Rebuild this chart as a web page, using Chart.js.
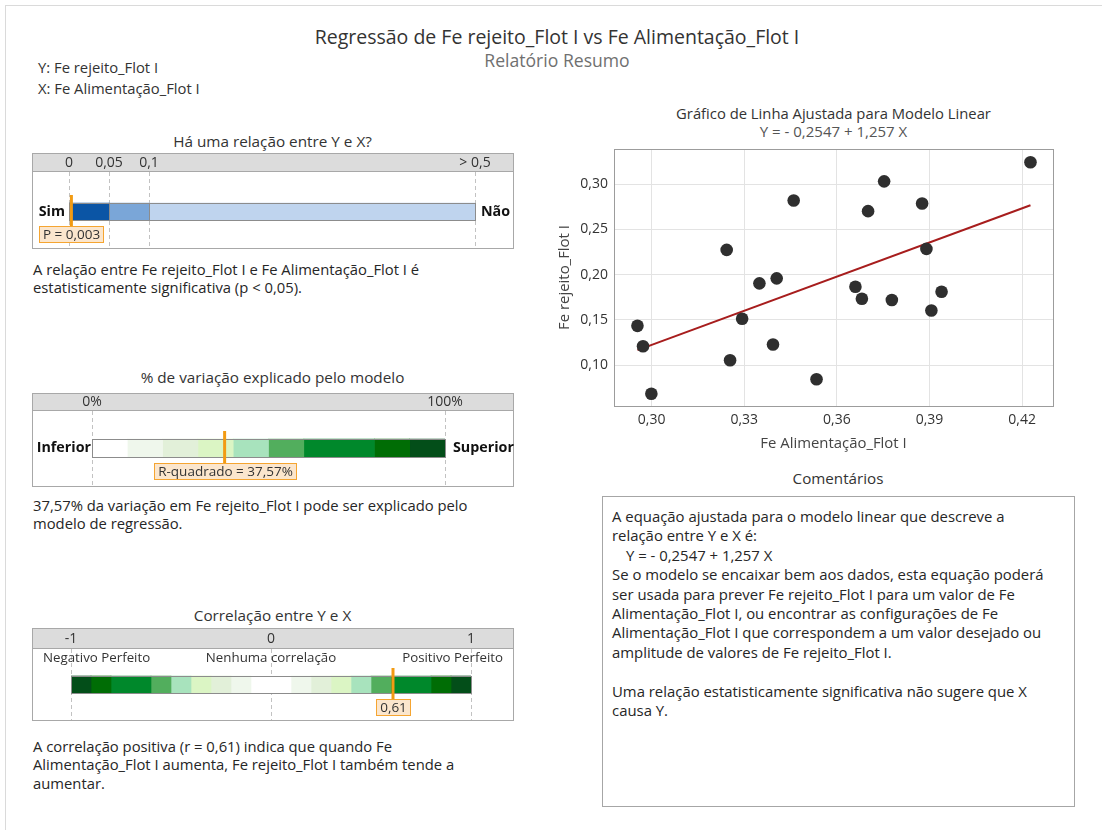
<!DOCTYPE html>
<html lang="pt">
<head>
<meta charset="utf-8">
<title>Regressão de Fe rejeito_Flot I vs Fe Alimentação_Flot I</title>
<script src="https://cdn.jsdelivr.net/npm/chart.js@4/dist/chart.umd.min.js"></script>
<style>
  body { margin: 0; background: #fff; font-family: 'Open Sans', 'Noto Sans', sans-serif; color: #262626; }
  #page { position: relative; width: 1102px; height: 830px; overflow: hidden; background: #fff; }
  .frame { position: absolute; left: 5px; top: 5px; width: 1200px; height: 900px;
           border-left: 1px solid #dadada; border-top: 1px solid #dadada; }
  .t { position: absolute; white-space: nowrap; }
  .body { font-size: 14.8px; line-height: 18.3px; color: #262626; }
  .ptitle { font-size: 15.3px; line-height: 18px; color: #333; text-align: center; }
  canvas { position: absolute; }
  #comments { position: absolute; left: 602px; top: 496px; width: 473px; height: 311px;
              border: 1px solid #a6a6a6; box-sizing: border-box; }
</style>
</head>
<body>
<div id="page">
  <div class="frame"></div>

  <div class="t" style="left:0;width:1114px;top:24px;font-size:19.5px;line-height:26px;text-align:center;color:#333;">Regressão de Fe rejeito_Flot I vs Fe Alimentação_Flot I</div>
  <div class="t" style="left:0;width:1114px;top:49px;font-size:17.6px;line-height:22px;text-align:center;color:#707070;">Relatório Resumo</div>
  <div class="t" style="left:38px;top:58px;font-size:14.8px;line-height:18px;color:#333;">Y: Fe rejeito_Flot I</div>
  <div class="t" style="left:38px;top:79px;font-size:14.8px;line-height:18px;color:#333;">X: Fe Alimentação_Flot I</div>

  <!-- left column: gauges -->
  <div class="t ptitle" style="left:32px;width:481px;top:132px;">Há uma relação entre Y e X?</div>
  <canvas id="pGauge" width="490" height="99" style="left:30px;top:151px;"></canvas>
  <div class="t body" id="pText" style="left:33px;top:260px;"></div>

  <div class="t ptitle" style="left:32px;width:481px;top:368px;">% de variação explicado pelo modelo</div>
  <canvas id="r2Gauge" width="490" height="97" style="left:30px;top:391px;"></canvas>
  <div class="t body" id="r2Text" style="left:33px;top:496px;"></div>

  <div class="t ptitle" style="left:32px;width:481px;top:606px;">Correlação entre Y e X</div>
  <canvas id="rGauge" width="490" height="96" style="left:30px;top:626px;"></canvas>
  <div class="t body" id="rText" style="left:33px;top:737px;"></div>

  <!-- right column: fitted line plot and comments -->
  <div class="t" style="left:614px;width:439px;top:104px;font-size:14.8px;line-height:18px;text-align:center;color:#333;">Gráfico de Linha Ajustada para Modelo Linear</div>
  <div class="t" id="eqSub" style="left:614px;width:439px;top:122px;font-size:15px;line-height:18px;text-align:center;color:#555;"></div>
  <canvas id="fitChart" width="515" height="320" style="left:548px;top:140px;"></canvas>

  <div class="t" style="left:602px;width:472px;top:469px;font-size:15.2px;line-height:18px;text-align:center;color:#333;">Comentários</div>
  <div id="comments"></div>
  <div class="t" id="commentText" style="left:612px;top:507px;font-size:14.9px;line-height:19.4px;color:#262626;"></div>
</div>

<script>
// ---- regression data: Fe Alimentação_Flot I (x) and Fe rejeito_Flot I (y) ----
const xFeAlim = [0.2954, 0.2972, 0.2999, 0.3243, 0.3254, 0.3293, 0.3349, 0.3393, 0.3405, 0.3460, 0.3534,
                 0.3660, 0.3681, 0.3701, 0.3753, 0.3778, 0.3876, 0.3890, 0.3906, 0.3939, 0.4227];
const yFeRej  = [0.1435, 0.1210, 0.0686, 0.2273, 0.1055, 0.1513, 0.1904, 0.1229, 0.1959, 0.2819, 0.0845,
                 0.1867, 0.1734, 0.2701, 0.3030, 0.1720, 0.2786, 0.2284, 0.1605, 0.1812, 0.3240];
const fitIntercept = -0.2547;
const fitSlope = 1.257;
const xTickValues = [0.30, 0.33, 0.36, 0.39, 0.42];
const yTickValues = [0.10, 0.15, 0.20, 0.25, 0.30];

// ---- summary statistics ----
const pValue = 0.003;
const rSquared = 37.57;
const rValue = 0.61;

// p-value gauge
const pTickValues = [0, 0.05, 0.1, 0.5];
const pTickLabels = ['0', '0,05', '0,1', '> 0,5'];
const pBandEdges  = [0, 0.05, 0.1, 0.5];
const pBandColors = ['#0b55a5', '#7aa6d8', '#bfd4ee'];

// R-squared gauge
const r2TickValues = [0, 100];
const r2TickLabels = ['0%', '100%'];
const r2BandEdges  = [0, 10, 20, 30, 40, 50, 60, 80, 90, 100];
const r2BandColors = ['#ffffff', '#eff7ec', '#e2f0d9', '#dbf5c4', '#a8e3bd', '#52ae5d', '#00882b', '#006d05', '#034e19'];

// correlation gauge
const rTickValues = [-1, 0, 1];
const rTickLabels = ['-1', '0', '1'];
const rBandEdges  = [-1, -0.9, -0.8, -0.6, -0.5, -0.4, -0.3, -0.2, -0.1, 0.1, 0.2, 0.3, 0.4, 0.5, 0.6, 0.8, 0.9, 1];
const rBandColors = ['#034e19', '#006d05', '#00882b', '#52ae5d', '#a8e3bd', '#dbf5c4', '#e2f0d9', '#eff7ec', '#ffffff',
                     '#eff7ec', '#e2f0d9', '#dbf5c4', '#a8e3bd', '#52ae5d', '#00882b', '#006d05', '#034e19'];

const FONT = "'Open Sans', 'Noto Sans', sans-serif";
Chart.defaults.font.family = FONT;
Chart.defaults.color = '#333';

const fmt = (v, d) => v.toFixed(d).replace('.', ',');
const eqText = 'Y = ' + (fitIntercept < 0 ? '- ' : '') + fmt(Math.abs(fitIntercept), 4) + ' + ' + fmt(fitSlope, 3) + ' X';

// ---- text blocks ----
document.getElementById('eqSub').textContent = eqText;
document.getElementById('pText').innerHTML =
  'A relação entre Fe rejeito_Flot I e Fe Alimentação_Flot I é<br>estatisticamente significativa (p &lt; 0,05).';
document.getElementById('r2Text').innerHTML =
  fmt(rSquared, 2) + '% da variação em Fe rejeito_Flot I pode ser explicado pelo<br>modelo de regressão.';
document.getElementById('rText').innerHTML =
  'A correlação positiva (r = ' + fmt(rValue, 2) + ') indica que quando Fe<br>' +
  'Alimentação_Flot I aumenta, Fe rejeito_Flot I também tende a<br>aumentar.';
document.getElementById('commentText').innerHTML = [
  'A equação ajustada para o modelo linear que descreve a',
  'relação entre Y e X é:',
  '<span style="padding-left:14px">' + eqText + '</span>',
  'Se o modelo se encaixar bem aos dados, esta equação poderá',
  'ser usada para prever Fe rejeito_Flot I para um valor de Fe',
  'Alimentação_Flot I, ou encontrar as configurações de Fe',
  'Alimentação_Flot I que correspondem a um valor desejado ou',
  'amplitude de valores de Fe rejeito_Flot I.',
  '&nbsp;',
  'Uma relação estatisticamente significativa não sugere que X',
  'causa Y.'
].join('<br>');

// ---- gauge charts (horizontal floating bars) ----
function gaugeDecor(cfg) {
  return {
    id: 'gaugeDecor',
    beforeDatasetsDraw(chart) {
      const ctx = chart.ctx, xs = chart.scales.x;
      const bx = 2, by = 2, bw = cfg.boxW, bh = cfg.boxH, hh = cfg.headerH;
      ctx.save();
      ctx.fillStyle = '#dcdcdc';
      ctx.fillRect(bx, by, bw, hh);
      // dashed guides at each tick
      ctx.strokeStyle = '#c2c2c2';
      ctx.lineWidth = 1;
      ctx.setLineDash([4, 3]);
      cfg.ticks.forEach(v => {
        const x = Math.round(xs.getPixelForValue(cfg.map(v))) + 0.5;
        ctx.beginPath(); ctx.moveTo(x, by + hh + 1); ctx.lineTo(x, by + bh); ctx.stroke();
      });
      ctx.setLineDash([]);
      // frame and header rule
      ctx.strokeStyle = '#a8a8a8';
      ctx.strokeRect(bx + 0.5, by + 0.5, bw, bh);
      ctx.beginPath(); ctx.moveTo(bx, by + hh + 0.5); ctx.lineTo(bx + bw, by + hh + 0.5); ctx.stroke();
      // tick labels in header
      ctx.fillStyle = '#333';
      ctx.font = '14px ' + FONT;
      ctx.textAlign = 'center';
      ctx.textBaseline = 'middle';
      cfg.ticks.forEach((v, i) => {
        ctx.fillText(cfg.tickLabels[i], xs.getPixelForValue(cfg.map(v)), by + hh / 2 + 1);
      });
      // sub labels (correlation gauge)
      if (cfg.subLabels) {
        ctx.font = '13.3px ' + FONT;
        cfg.subLabels.forEach(s => {
          ctx.textAlign = s.align;
          let x = s.align === 'center' ? xs.getPixelForValue(s.at) : (s.align === 'left' ? bx + 11 : bx + bw - 10);
          ctx.fillText(s.text, x, cfg.subY);
        });
      }
      ctx.restore();
    },
    afterDatasetsDraw(chart) {
      const ctx = chart.ctx, xs = chart.scales.x;
      const bar = chart.getDatasetMeta(0).data[0];
      const top = Math.round(bar.y - bar.height / 2), bot = Math.round(bar.y + bar.height / 2);
      const x0 = xs.getPixelForValue(cfg.map(cfg.edges[0]));
      const x1 = xs.getPixelForValue(cfg.map(cfg.edges[cfg.edges.length - 1]));
      ctx.save();
      ctx.strokeStyle = '#8c8c8c';
      ctx.lineWidth = 1;
      ctx.strokeRect(Math.round(x0) + 0.5, top + 0.5, Math.round(x1 - x0), bot - top);
      if (cfg.separators) {
        cfg.edges.slice(1, -1).forEach(e => {
          const x = Math.round(xs.getPixelForValue(cfg.map(e))) + 0.5;
          ctx.beginPath(); ctx.moveTo(x, top); ctx.lineTo(x, bot); ctx.stroke();
        });
      }
      // side labels
      ctx.fillStyle = '#111';
      ctx.font = 'bold 14.3px ' + FONT;
      ctx.textBaseline = 'middle';
      if (cfg.leftLabel) { ctx.textAlign = 'right'; ctx.fillText(cfg.leftLabel, x0 - cfg.sideGapL, bar.y); }
      if (cfg.rightLabel) { ctx.textAlign = 'left'; ctx.fillText(cfg.rightLabel, x1 + cfg.sideGapR, bar.y); }
      // value marker and label
      const mx = xs.getPixelForValue(cfg.map(cfg.value));
      const boxTop = bot + 6, boxH = 16;
      ctx.strokeStyle = '#f29b13';
      ctx.lineWidth = 3;
      ctx.beginPath(); ctx.moveTo(mx, top - 8); ctx.lineTo(mx, boxTop + 1); ctx.stroke();
      ctx.font = '13.5px ' + FONT;
      const tw = ctx.measureText(cfg.valueLabel).width;
      const bw = Math.round(tw + 7);
      const bxl = Math.round(mx - bw / 2);
      ctx.fillStyle = '#fbe6cd';
      ctx.fillRect(bxl, boxTop, bw, boxH);
      ctx.strokeStyle = '#f5a531';
      ctx.lineWidth = 1;
      ctx.strokeRect(bxl + 0.5, boxTop + 0.5, bw, boxH);
      ctx.fillStyle = '#333';
      ctx.textAlign = 'center';
      ctx.fillText(cfg.valueLabel, bxl + bw / 2 + 0.5, boxTop + boxH / 2 + 1);
      ctx.restore();
    }
  };
}

function gaugeChart(id, cfg) {
  const datasets = cfg.colors.map((c, i) => ({
    data: [[cfg.map(cfg.edges[i]), cfg.map(cfg.edges[i + 1])]],
    backgroundColor: c,
    borderWidth: 0,
    grouped: false,
    barThickness: cfg.barH
  }));
  return new Chart(document.getElementById(id), {
    type: 'bar',
    data: { labels: [''], datasets },
    options: {
      indexAxis: 'y',
      responsive: false,
      animation: false,
      events: [],
      layout: { padding: cfg.pad },
      plugins: { legend: { display: false }, tooltip: { enabled: false } },
      scales: {
        x: { type: 'linear', display: false, min: cfg.map(cfg.edges[0]), max: cfg.map(cfg.edges[cfg.edges.length - 1]) },
        y: { display: false }
      }
    },
    plugins: [gaugeDecor(cfg)]
  });
}

// p-value axis: 0–0.05 and 0.05–0.1 get equal room, 0.1–0.5 is compressed
function pAxis(p) {
  const stops = [0, 1, 2, 10.15];
  for (let i = 1; i < pTickValues.length; i++) {
    if (p <= pTickValues[i]) {
      const a = pTickValues[i - 1], b = pTickValues[i];
      return stops[i - 1] + (p - a) / (b - a) * (stops[i] - stops[i - 1]);
    }
  }
  return stops[stops.length - 1];
}
const identity = v => v;

gaugeChart('pGauge', {
  map: pAxis, edges: pBandEdges, colors: pBandColors, ticks: pTickValues, tickLabels: pTickLabels,
  value: pValue, valueLabel: 'P = ' + fmt(pValue, 3),
  leftLabel: 'Sim', rightLabel: 'Não', sideGapL: 4, sideGapR: 6, separators: true,
  pad: { left: 39, right: 45, top: 24, bottom: 2 }, barH: 17,
  boxW: 481, boxH: 95, headerH: 18
});

gaugeChart('r2Gauge', {
  map: identity, edges: r2BandEdges, colors: r2BandColors, ticks: r2TickValues, tickLabels: r2TickLabels,
  value: rSquared, valueLabel: 'R-quadrado = ' + fmt(rSquared, 2) + '%',
  leftLabel: 'Inferior', rightLabel: 'Superior', sideGapL: 1, sideGapR: 8,
  pad: { left: 62, right: 75, top: 22, bottom: 5 }, barH: 18,
  boxW: 481, boxH: 93, headerH: 17
});

gaugeChart('rGauge', {
  map: identity, edges: rBandEdges, colors: rBandColors, ticks: rTickValues, tickLabels: rTickLabels,
  value: rValue, valueLabel: fmt(rValue, 2),
  subLabels: [
    { text: 'Negativo Perfeito', align: 'left' },
    { text: 'Nenhuma correlação', align: 'center', at: 0 },
    { text: 'Positivo Perfeito', align: 'right' }
  ],
  subY: 32,
  pad: { left: 41, right: 49, top: 25, bottom: 4 }, barH: 17,
  boxW: 481, boxH: 92, headerH: 20
});

// ---- fitted line plot ----
const plotFrame = {
  id: 'plotFrame',
  beforeDatasetsDraw(chart) {
    const { ctx, chartArea: a } = chart;
    ctx.save();
    ctx.strokeStyle = '#9c9c9c';
    ctx.lineWidth = 1;
    ctx.strokeRect(Math.round(a.left) + 0.5, Math.round(a.top) + 0.5, Math.round(a.right - a.left), Math.round(a.bottom - a.top));
    ctx.restore();
  }
};

const fitXs = [Math.min(...xFeAlim), Math.max(...xFeAlim)];
new Chart(document.getElementById('fitChart'), {
  data: {
    datasets: [
      {
        type: 'line',
        data: fitXs.map(x => ({ x, y: fitIntercept + fitSlope * x })),
        borderColor: '#a71d1d',
        borderWidth: 2,
        pointRadius: 0,
        order: 2
      },
      {
        type: 'scatter',
        data: xFeAlim.map((x, i) => ({ x, y: yFeRej[i] })),
        backgroundColor: '#2f2f2f',
        borderColor: '#2f2f2f',
        borderWidth: 0,
        pointRadius: 6.3,
        order: 1
      }
    ]
  },
  options: {
    responsive: false,
    animation: false,
    events: [],
    layout: { padding: { top: 9, right: 10, left: 0, bottom: 0 } },
    plugins: { legend: { display: false }, tooltip: { enabled: false } },
    scales: {
      x: {
        type: 'linear', min: 0.2878, max: 0.4300,
        afterBuildTicks: s => { s.ticks = xTickValues.map(v => ({ value: v })); },
        afterFit: s => { s.height = 54; s.paddingLeft = 0; s.paddingRight = 0; },
        grid: { color: '#e3e3e3', drawTicks: false },
        border: { display: false },
        ticks: { padding: 6, color: '#333', font: { size: 14 }, callback: v => fmt(v, 2) },
        title: { display: true, text: 'Fe Alimentação_Flot I', color: '#444', font: { size: 14.9 }, padding: { top: 0, bottom: 7 } }
      },
      y: {
        type: 'linear', min: 0.055, max: 0.3387,
        afterBuildTicks: s => { s.ticks = yTickValues.map(v => ({ value: v })); },
        afterFit: s => { s.width = 66; s.paddingTop = 0; s.paddingBottom = 0; },
        grid: { color: '#e3e3e3', drawTicks: false },
        border: { display: false },
        ticks: { padding: 6, color: '#333', font: { size: 14 }, callback: v => fmt(v, 2) },
        title: { display: true, text: 'Fe rejeito_Flot I', color: '#444', font: { size: 14.9 }, padding: { top: 8, bottom: 0 } }
      }
    }
  },
  plugins: [plotFrame]
});
</script>
</body>
</html>
